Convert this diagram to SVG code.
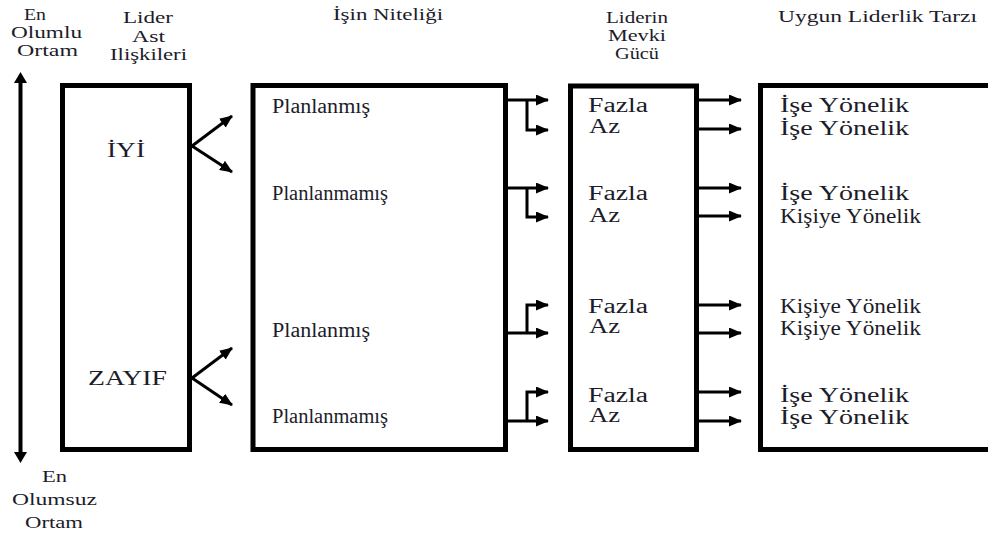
<svg xmlns="http://www.w3.org/2000/svg" width="988" height="533" viewBox="0 0 988 533" font-family="'Liberation Serif', 'Times New Roman', 'DejaVu Serif', serif">
<style>
text { font-family: 'Liberation Serif', 'Times New Roman', 'DejaVu Serif', serif; fill: #1c1c2a; }
.h { font-size: 16px; }
.b { font-size: 20px; }
.box { fill: #fff; stroke: #000; stroke-width: 5; }
.c { fill: none; stroke: #000; stroke-width: 3; }
</style>
<defs>
<marker id="ah" markerUnits="userSpaceOnUse" markerWidth="13" markerHeight="11" refX="12" refY="5.5" orient="auto">
<path d="M0,0 L13,5.5 L0,11 z" fill="#000"/>
</marker>
</defs>
<rect width="988" height="533" fill="#fff"/>

<g id="axis">
<line x1="20.5" y1="80" x2="20.5" y2="455" stroke="#000" stroke-width="4"/>
<path d="M20.5,72 L27,83 L14,83 z" fill="#000"/>
<path d="M20.5,463 L27,452 L14,452 z" fill="#000"/>
<text class="h" x="24" y="20" textLength="22" lengthAdjust="spacingAndGlyphs">En</text>
<text class="h" x="11" y="38" textLength="71" lengthAdjust="spacingAndGlyphs">Olumlu</text>
<text class="h" x="17" y="56" textLength="61" lengthAdjust="spacingAndGlyphs">Ortam</text>
<text class="h" x="42" y="482" textLength="25" lengthAdjust="spacingAndGlyphs">En</text>
<text class="h" x="12" y="505" textLength="85" lengthAdjust="spacingAndGlyphs">Olumsuz</text>
<text class="h" x="25" y="528" textLength="58" lengthAdjust="spacingAndGlyphs">Ortam</text>
</g>

<g id="col1">
<text class="h" x="123" y="23" textLength="50" lengthAdjust="spacingAndGlyphs">Lider</text>
<text class="h" x="132" y="42" textLength="33" lengthAdjust="spacingAndGlyphs">Ast</text>
<text class="h" x="110" y="60" textLength="77" lengthAdjust="spacingAndGlyphs">Ilişkileri</text>
<rect class="box" x="62.5" y="85.5" width="127" height="364"/>
<text class="b" x="107" y="157" textLength="38" lengthAdjust="spacingAndGlyphs">İYİ</text>
<text class="b" x="88" y="385" textLength="79" lengthAdjust="spacingAndGlyphs">ZAYIF</text>
</g>

<g id="col2">
<text class="h" x="333" y="20" textLength="110" lengthAdjust="spacingAndGlyphs">İşin Niteliği</text>
<rect class="box" x="253" y="85.5" width="252.5" height="364"/>
<text class="b" x="272" y="113" textLength="98" lengthAdjust="spacingAndGlyphs">Planlanmış</text>
<text class="b" x="272" y="200" textLength="116" lengthAdjust="spacingAndGlyphs">Planlanmamış</text>
<text class="b" x="272" y="337" textLength="98" lengthAdjust="spacingAndGlyphs">Planlanmış</text>
<text class="b" x="272" y="423" textLength="116" lengthAdjust="spacingAndGlyphs">Planlanmamış</text>
</g>

<g id="col3">
<text class="h" x="606" y="23" textLength="62" lengthAdjust="spacingAndGlyphs">Liderin</text>
<text class="h" x="608" y="41" textLength="58" lengthAdjust="spacingAndGlyphs">Mevki</text>
<text class="h" x="615" y="59" textLength="44" lengthAdjust="spacingAndGlyphs">Gücü</text>
<rect class="box" x="570.5" y="86" width="126" height="363.5"/>
<text class="b" x="588" y="112" textLength="60" lengthAdjust="spacingAndGlyphs">Fazla</text>
<text class="b" x="589" y="133" textLength="31" lengthAdjust="spacingAndGlyphs">Az</text>
<text class="b" x="588" y="200" textLength="60" lengthAdjust="spacingAndGlyphs">Fazla</text>
<text class="b" x="589" y="222" textLength="31" lengthAdjust="spacingAndGlyphs">Az</text>
<text class="b" x="588" y="313" textLength="60" lengthAdjust="spacingAndGlyphs">Fazla</text>
<text class="b" x="589" y="333" textLength="31" lengthAdjust="spacingAndGlyphs">Az</text>
<text class="b" x="588" y="402" textLength="60" lengthAdjust="spacingAndGlyphs">Fazla</text>
<text class="b" x="589" y="422" textLength="31" lengthAdjust="spacingAndGlyphs">Az</text>
</g>

<g id="col4">
<text class="h" x="778" y="22" textLength="199" lengthAdjust="spacingAndGlyphs">Uygun Liderlik Tarzı</text>
<rect class="box" x="760.5" y="85.5" width="240" height="364"/>
<text class="b" x="780" y="112" textLength="129" lengthAdjust="spacingAndGlyphs">İşe Yönelik</text>
<text class="b" x="780" y="135" textLength="129" lengthAdjust="spacingAndGlyphs">İşe Yönelik</text>
<text class="b" x="780" y="200" textLength="129" lengthAdjust="spacingAndGlyphs">İşe Yönelik</text>
<text class="b" x="780" y="223" textLength="141" lengthAdjust="spacingAndGlyphs">Kişiye Yönelik</text>
<text class="b" x="780" y="313" textLength="141" lengthAdjust="spacingAndGlyphs">Kişiye Yönelik</text>
<text class="b" x="780" y="335" textLength="141" lengthAdjust="spacingAndGlyphs">Kişiye Yönelik</text>
<text class="b" x="780" y="402" textLength="129" lengthAdjust="spacingAndGlyphs">İşe Yönelik</text>
<text class="b" x="780" y="424" textLength="129" lengthAdjust="spacingAndGlyphs">İşe Yönelik</text>
</g>

<g id="connectors">
<path class="c" d="M192,146 L232,116" marker-end="url(#ah)"/>
<path class="c" d="M192,146 L232,172" marker-end="url(#ah)"/>
<path class="c" d="M192,378 L232,348" marker-end="url(#ah)"/>
<path class="c" d="M192,378 L232,405" marker-end="url(#ah)"/>

<path class="c" d="M506,100 H548" marker-end="url(#ah)"/>
<path class="c" d="M527,100 V130 H548" marker-end="url(#ah)"/>
<path class="c" d="M506,188 H548" marker-end="url(#ah)"/>
<path class="c" d="M527,188 V217 H548" marker-end="url(#ah)"/>
<path class="c" d="M506,333 H548" marker-end="url(#ah)"/>
<path class="c" d="M527,333 V305 H548" marker-end="url(#ah)"/>
<path class="c" d="M506,421 H548" marker-end="url(#ah)"/>
<path class="c" d="M527,421 V392 H548" marker-end="url(#ah)"/>

<path class="c" d="M697,100 H741" marker-end="url(#ah)"/>
<path class="c" d="M697,129 H741" marker-end="url(#ah)"/>
<path class="c" d="M697,188 H741" marker-end="url(#ah)"/>
<path class="c" d="M697,216 H741" marker-end="url(#ah)"/>
<path class="c" d="M697,305 H741" marker-end="url(#ah)"/>
<path class="c" d="M697,333 H741" marker-end="url(#ah)"/>
<path class="c" d="M697,392 H741" marker-end="url(#ah)"/>
<path class="c" d="M697,421 H741" marker-end="url(#ah)"/>
</g>
</svg>
